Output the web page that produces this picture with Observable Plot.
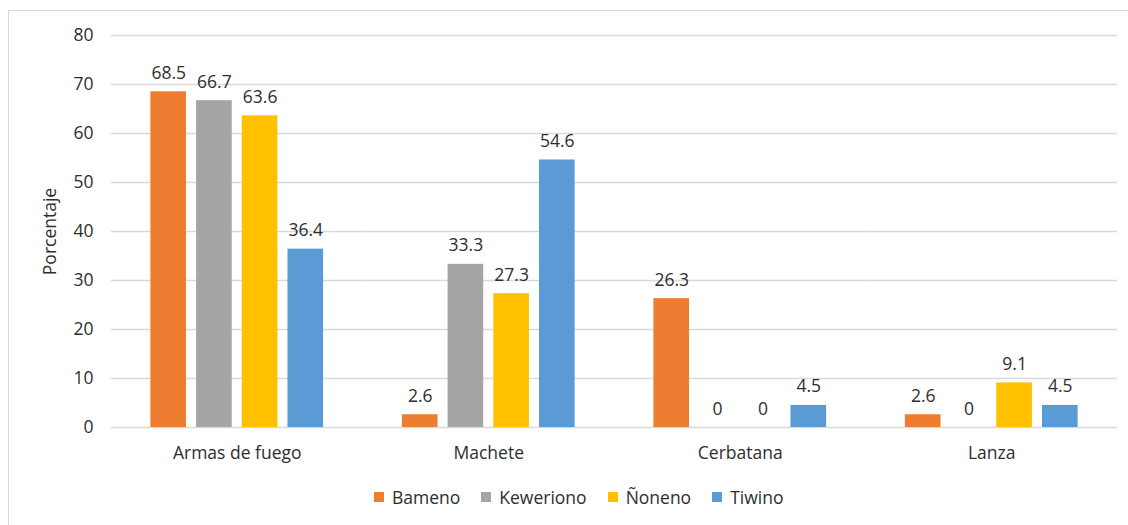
<!DOCTYPE html>
<html><head><meta charset="utf-8">
<script src="https://cdn.jsdelivr.net/npm/d3@7"></script>
<script src="https://cdn.jsdelivr.net/npm/@observablehq/plot@0.6"></script>
<style>
body{margin:0;background:#fff;font-family:"Open Sans",sans-serif;}
#frame{position:absolute;left:8px;top:10px;width:1140px;height:540px;border:1px solid #d9d9d9;box-sizing:border-box;}
#chart{position:absolute;left:0;top:0;}
#legend{position:absolute;top:485px;left:374px;display:flex;align-items:center;font-size:17.5px;color:#2e2e2e;white-space:nowrap;}
#legend .item{display:flex;align-items:center;margin-right:21px;}
#legend .sw{width:10px;height:10px;margin-right:8px;}
</style></head>
<body>
<div id="frame"></div>
<div id="chart"></div>
<div id="legend"></div>
<script>
const categories = ["Armas de fuego", "Machete", "Cerbatana", "Lanza"];
const groups = ["Bameno", "Keweriono", "Ñoneno", "Tiwino"];
const bameno = [68.5, 2.6, 26.3, 2.6];
const keweriono = [66.7, 33.3, 0, 0];
const noneno = [63.6, 27.3, 0, 9.1];
const tiwino = [36.4, 54.6, 4.5, 4.5];
const colors = ["#ED7D31", "#A5A5A5", "#FFC000", "#5B9BD5"];
const yTicks = [0, 10, 20, 30, 40, 50, 60, 70, 80];

const series = [bameno, keweriono, noneno, tiwino];
const data = categories.flatMap((c, i) => groups.map((g, j) => ({category: c, group: g, value: series[j][i]})));

const chart = Plot.plot({
  width: 1128,
  height: 470,
  marginLeft: 111,
  marginRight: 11,
  marginTop: 35,
  marginBottom: 43,
  style: {fontFamily: "'Open Sans', sans-serif", fontSize: "17.5px", color: "#2e2e2e", background: "transparent"},
  fx: {domain: categories, padding: 0, label: null, round: false},
  x: {domain: groups, paddingInner: 0.22, paddingOuter: 0.862, axis: null, round: false},
  y: {domain: [0, 80], label: null},
  color: {domain: groups, range: colors},
  marks: [
    Plot.ruleY(yTicks, {stroke: "#d9d9d9", strokeWidth: 1.3}),
    Plot.barY(data, {fx: "category", x: "group", y: "value", fill: "group"}),
    Plot.text(data, {fx: "category", x: "group", y: "value", text: d => String(d.value), lineAnchor: "bottom", dy: -13, fill: "#2e2e2e", fontSize: 17.5}),
    Plot.axisY({ticks: yTicks, tickSize: 0, tickPadding: 18, fontSize: 17.5, label: "Porcentaje", labelAnchor: "center", labelOffset: 68, labelArrow: "none"}),
    Plot.axisFx({anchor: "bottom", tickSize: 0, tickPadding: 19, fontSize: 17.5, label: null})
  ]
});
document.getElementById("chart").appendChild(chart);

const legend = document.getElementById("legend");
groups.forEach((g, i) => {
  const item = document.createElement("div");
  item.className = "item";
  const sw = document.createElement("div");
  sw.className = "sw";
  sw.style.background = colors[i];
  const t = document.createElement("span");
  t.textContent = g;
  item.appendChild(sw);
  item.appendChild(t);
  legend.appendChild(item);
});
</script>
</body></html>
